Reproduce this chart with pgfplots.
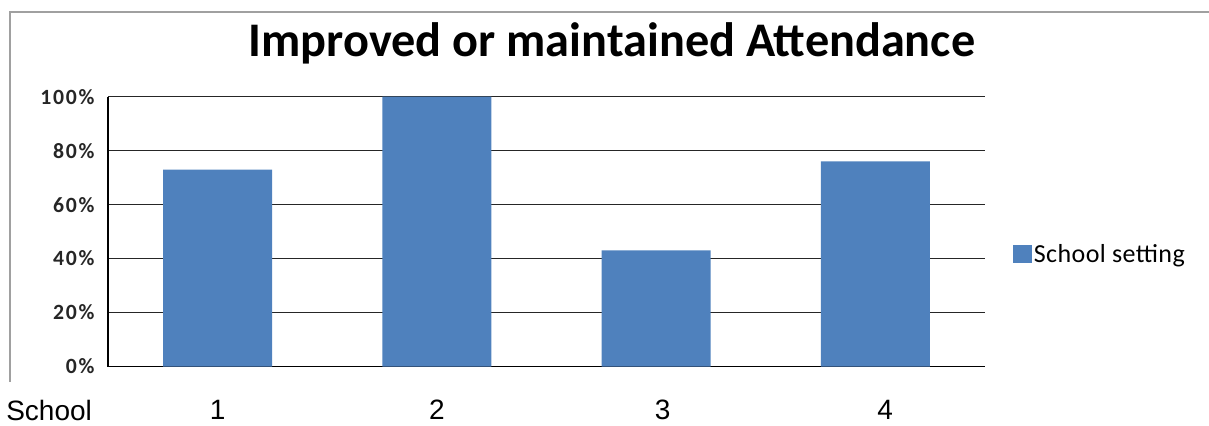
\documentclass[border=0pt]{standalone}
\usepackage{fontspec}
\setmainfont{Carlito}
\newfontfamily\arialfont{Liberation Sans}
\newfontfamily\tickfont[LetterSpace=8]{Carlito}
\newfontfamily\legendfont[LetterSpace=1.5]{Carlito}
\usepackage{pgfplots}
\pgfplotsset{compat=1.18}
\definecolor{barblue}{HTML}{4F81BD}
\definecolor{framegray}{HTML}{A0A0A0}

\begin{document}
\begin{tikzpicture}
\useasboundingbox (0,0) rectangle (906.75pt,318.75pt);
% chart frame (top and left edges)
\draw[framegray, line width=1pt] (7.5pt,32.25pt) -- (7.5pt,309.75pt) -- (906.75pt,309.75pt);
% title
\node[anchor=base, inner sep=0pt, font=\bfseries\fontsize{36.2}{36.2}\selectfont] at (459pt,276.2pt) {Improved or maintained Attendance};

\begin{axis}[
  at={(81pt,43.875pt)}, anchor=south west,
  scale only axis, width=657.75pt, height=202.35pt,
  xmin=0.5, xmax=4.5, ymin=0, ymax=100,
  axis x line*=bottom, axis y line*=left,
  axis line style={-, black, line width=1pt},
  ymajorgrids, major grid style={black!85, line width=1pt},
  major tick length=0pt,
  ytick={0,20,40,60,80,100},
  yticklabels={0\%,20\%,40\%,60\%,80\%,100\%},
  yticklabel style={anchor=east, inner sep=0pt, xshift=-10pt,
    font=\tickfont\bfseries\fontsize{16.3}{16.3}\selectfont, text=black!85},
  xtick={1,2,3.03,4.045},
  xticklabels={1,2,3,4},
  xticklabel style={anchor=base, inner sep=0pt, yshift=-40pt,
    font=\arialfont\fontsize{21}{21}\selectfont},
  ybar, bar width=81.75pt, bar shift=0pt,
  legend style={at={(1.0319,0.415)}, anchor=west, draw=none, fill=none,
    inner sep=0pt, font=\legendfont\fontsize{19.5}{19.5}\selectfont,
    nodes={inner sep=1.5pt}},
  legend image code/.code={\fill[barblue] (0pt,-6.5pt) rectangle (14pt,7.5pt);},
]
\addplot[fill=barblue, draw=none] coordinates {(1,73) (2,100) (3,43) (4,76)};
\addlegendentry{School setting}
\end{axis}

% row label under the categories
\node[anchor=base west, inner sep=0pt, font=\arialfont\fontsize{21}{21}\selectfont] at (4.5pt,3.75pt) {School};
\end{tikzpicture}
\end{document}
